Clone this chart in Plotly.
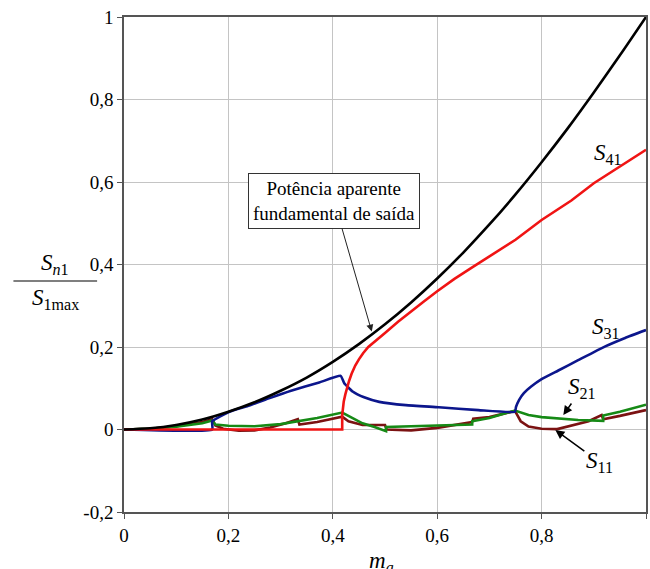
import plotly.graph_objects as go

# Output fundamental apparent power (normalised)
m_fund = [0, 0.05, 0.1, 0.15, 0.2, 0.25, 0.3, 0.35, 0.4, 0.45, 0.5, 0.55, 0.6,
          0.65, 0.7, 0.75, 0.8, 0.85, 0.9, 0.95, 1.0]
s_fund = [0, 0.003, 0.011, 0.024, 0.043, 0.066, 0.094, 0.126, 0.164, 0.207,
          0.255, 0.308, 0.366, 0.429, 0.497, 0.570, 0.648, 0.730, 0.817, 0.907,
          1.0]

# Cell 4 (S41)
m_41 = [0, 0.418, 0.418, 0.419, 0.421, 0.424, 0.427, 0.431, 0.436, 0.443,
        0.45, 0.458, 0.468, 0.483, 0.5, 0.525, 0.55, 0.575, 0.6, 0.633, 0.667,
        0.7, 0.75, 0.8, 0.857, 0.9, 0.95, 1.0]
s_41 = [0, 0, 0.035, 0.05, 0.068, 0.085, 0.1, 0.117, 0.135, 0.155,
        0.17, 0.185, 0.2, 0.217, 0.234, 0.261, 0.287, 0.311, 0.335, 0.365, 0.393,
        0.42, 0.46, 0.508, 0.555, 0.597, 0.638, 0.678]

# Cell 3 (S31)
m_31 = [0, 0.169, 0.169, 0.202, 0.24, 0.279, 0.32, 0.374, 0.415, 0.422, 0.438,
        0.46, 0.489, 0.54, 0.603, 0.679, 0.749, 0.751, 0.757, 0.766, 0.78,
        0.8, 0.832, 0.87, 0.921, 0.96, 1.0]
s_31 = [0, 0, 0.02, 0.043, 0.058, 0.076, 0.094, 0.114, 0.13, 0.112, 0.092,
        0.078, 0.067, 0.059, 0.054, 0.047, 0.043, 0.055, 0.072, 0.088, 0.104,
        0.122, 0.143, 0.168, 0.201, 0.222, 0.241]

# Cell 2 (S21)
m_21 = [0, 0.05, 0.1, 0.15, 0.169, 0.175, 0.2, 0.25, 0.3, 0.333, 0.37, 0.418,
        0.457, 0.48, 0.502, 0.502, 0.55, 0.6, 0.667, 0.667, 0.7, 0.749, 0.775,
        0.8, 0.838, 0.87, 0.918, 0.918, 0.95, 1.0]
s_21 = [0, 0.002, 0.007, 0.015, 0.022, 0.012, 0.009, 0.008, 0.013, 0.02, 0.028,
        0.041, 0.015, 0.006, -0.004, 0.006, 0.008, 0.01, 0.012, 0.02, 0.028,
        0.046, 0.035, 0.03, 0.026, 0.023, 0.021, 0.034, 0.043, 0.06]

# Cell 1 (S11)
m_11 = [0, 0.05, 0.1, 0.15, 0.169, 0.175, 0.19, 0.22, 0.25, 0.28, 0.31, 0.333,
        0.336, 0.37, 0.418, 0.43, 0.457, 0.5, 0.503, 0.55, 0.6, 0.64, 0.667,
        0.669, 0.7, 0.749, 0.76, 0.775, 0.8, 0.83, 0.86, 0.89, 0.915, 0.918,
        0.95, 1.0]
s_11 = [0, 0.002, 0.008, 0.018, 0.025, 0.01, 0.002, -0.003, -0.002, 0.005,
        0.015, 0.025, 0.012, 0.018, 0.031, 0.02, 0.011, 0.011, 0.0, -0.002,
        0.004, 0.012, 0.018, 0.026, 0.03, 0.045, 0.02, 0.007, 0.002, 0.001,
        0.01, 0.02, 0.035, 0.025, 0.033, 0.047]

x_ticks = [0, 0.2, 0.4, 0.6, 0.8, 1.0]
x_tick_text = ["0", "0,2", "0,4", "0,6", "0,8", "1"]
y_ticks = [-0.2, 0, 0.2, 0.4, 0.6, 0.8, 1.0]
y_tick_text = ["-0,2", "0", "0,2", "0,4", "0,6", "0,8", "1"]

SERIF = "Liberation Serif"
LW = 2.6

fig = go.Figure()
series = [
    (m_11, s_11, "#7b1212", "S11", 0.0),
    (m_21, s_21, "#168a16", "S21", 0.0),
    (m_31, s_31, "#0c168c", "S31", 0.4),
    (m_41, s_41, "#f01414", "S41", 0.0),
    (m_fund, s_fund, "#000000", "Fundamental", 0.8),
]
for xs, ys, col, name, sm in series:
    line = dict(color=col, width=LW)
    if sm > 0:
        line.update(shape="spline", smoothing=sm)
    fig.add_trace(go.Scatter(x=xs, y=ys, mode="lines", name=name, line=line))

axis_common = dict(
    showline=True, linecolor="#555555", linewidth=1.5, mirror=True,
    showgrid=True, gridcolor="#c4c4c4", gridwidth=1,
    ticks="outside", ticklen=5, tickcolor="#555555",
    zeroline=False,
    tickfont=dict(family=SERIF, size=19),
)

fig.update_layout(
    width=650, height=569,
    margin=dict(l=124, r=2, t=17, b=57),
    paper_bgcolor="white", plot_bgcolor="white",
    showlegend=False,
    font=dict(family=SERIF, size=19, color="black"),
    xaxis=dict(range=[0, 1], tickvals=x_ticks, ticktext=x_tick_text,
               **axis_common),
    yaxis=dict(range=[-0.2, 1], tickvals=y_ticks, ticktext=y_tick_text,
               **axis_common),
)


def px_to_data(px, py):
    return (px - 124) / 524, (429.5 - py) / 412


# Callout box pointing to the fundamental curve
tip_x, tip_y = px_to_data(372.7, 331.7)
fig.add_annotation(
    x=tip_x, y=tip_y, xref="x", yref="y", ax=335 - 372.7, ay=201 - 331.7,
    text="Potência aparente<br>fundamental de saída", showarrow=True,
    arrowhead=2, arrowsize=1.4, arrowwidth=1, arrowcolor="#222222",
    font=dict(family=SERIF, size=19, color="black"),
    bordercolor="#333333", borderwidth=1, borderpad=4, bgcolor="white",
    align="center",
)

# Curve labels (S41 and S31 plain, S21 and S11 with pointers)
for lpx, lpy, sub in [(610, 154, "41"), (608, 328, "31")]:
    lx, ly = px_to_data(lpx, lpy)
    fig.add_annotation(
        x=lx, y=ly, xref="x", yref="y", showarrow=False,
        text=f"<i>S</i><sub>{sub}</sub>",
        font=dict(family=SERIF, size=23, color="black"),
    )

for lpx, lpy, tpx, tpy, sub in [(584, 388, 565, 415, "21"),
                                (601, 462, 557, 430, "11")]:
    tx, ty = px_to_data(tpx, tpy)
    fig.add_annotation(
        x=tx, y=ty, xref="x", yref="y", ax=lpx - tpx, ay=lpy - tpy,
        text=f"<i>S</i><sub>{sub}</sub>", showarrow=True,
        arrowhead=2, arrowsize=1.2, arrowwidth=1.5, arrowcolor="black",
        font=dict(family=SERIF, size=23, color="black"),
    )

# Axis titles
fig.add_annotation(
    x=(382 - 124) / 524, y=0, xref="paper", yref="paper",
    xanchor="center", yanchor="top", yshift=-34,
    text="<i>m</i><sub><i>a</i></sub>", showarrow=False,
    font=dict(family=SERIF, size=23, color="black"),
)
fig.add_annotation(
    xref="paper", yref="paper", x=-(124 - 55) / 524, y=(512 - 264) / 495,
    xanchor="center", yanchor="middle",
    text="<i>S</i><sub><i>n</i>1</sub>", showarrow=False,
    font=dict(family=SERIF, size=23, color="black"),
)
fig.add_annotation(
    xref="paper", yref="paper", x=-(124 - 55) / 524, y=(512 - 299) / 495,
    xanchor="center", yanchor="middle",
    text="<i>S</i><sub>1max</sub>", showarrow=False,
    font=dict(family=SERIF, size=23, color="black"),
)
fig.add_shape(type="line", xref="paper", yref="paper",
              x0=-(124 - 13) / 524, x1=-(124 - 97) / 524,
              y0=(512 - 281) / 495, y1=(512 - 281) / 495,
              line=dict(color="black", width=1.2))

fig.write_html("out.html")
